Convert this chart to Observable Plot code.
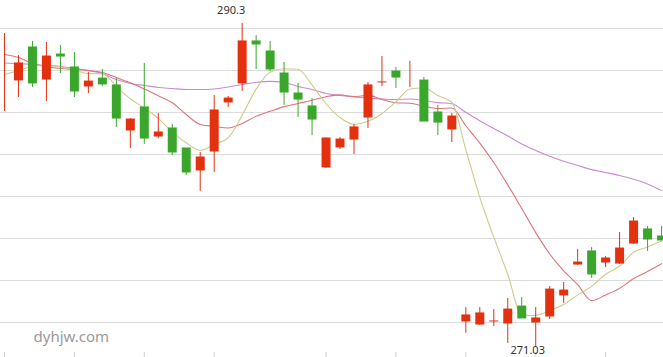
<!DOCTYPE html>
<html>
<head>
<meta charset="utf-8">
<script src="https://cdn.jsdelivr.net/npm/d3@7"></script>
<script src="https://cdn.jsdelivr.net/npm/@observablehq/plot@0.6"></script>
<style>
  html, body { margin: 0; padding: 0; background: #fff; }
  #chart svg { display: block; }
</style>
</head>
<body>
<div id="chart"></div>
<script>
// Daily candles (index order, left to right)
const opens  = [287.08,286.85,288.87,286.90,288.45,287.68,286.49,287.02,286.61,283.87,285.30,283.51,284.05,282.86,281.49,282.62,285.54,286.67,289.23,288.63,287.32,286.13,285.36,281.67,282.86,283.33,284.64,286.73,287.44,287.20,286.90,285.00,283.93,272.50,272.32,272.50,272.38,273.45,272.44,272.80,274.05,275.89,276.73,276.01,275.95,277.14,278.04,277.62];
const closes = [287.14,287.98,286.73,288.39,288.33,286.25,286.90,286.67,284.64,284.64,283.45,283.87,282.62,281.43,282.38,285.18,285.89,289.29,289.05,287.56,286.19,285.77,284.58,283.51,283.45,284.17,286.67,286.85,287.08,287.26,284.46,284.40,284.82,272.98,273.10,272.62,273.33,272.74,272.80,274.52,274.46,276.13,275.36,276.37,276.96,278.57,277.44,277.38];
const highs  = [289.70,288.39,289.23,289.17,288.99,288.57,287.38,287.56,287.02,284.64,287.92,284.94,284.29,282.86,282.62,286.01,285.95,290.30,289.58,289.23,287.98,286.73,285.83,283.51,283.51,284.29,286.79,288.33,287.68,288.04,287.08,285.42,284.94,273.39,273.39,273.27,273.93,273.99,273.39,274.64,274.88,276.85,276.96,276.43,277.86,278.75,278.21,278.21];
const lows   = [285.06,285.89,286.49,285.65,287.32,285.89,286.13,286.55,284.11,282.86,283.10,283.45,282.44,281.25,280.30,281.43,285.30,286.25,287.56,287.44,285.42,284.70,283.63,281.67,282.80,282.50,284.05,286.55,286.43,286.49,284.46,283.63,283.21,271.85,272.32,272.26,271.25,272.74,271.03,272.68,273.63,275.89,275.12,275.77,275.95,277.14,276.73,277.38];

// Moving averages as drawn
const ma5  = [287.26,287.50,287.74,287.80,287.71,287.54,287.32,287.31,286.56,285.82,285.26,284.65,283.85,283.20,282.75,283.10,283.50,284.83,286.39,287.39,287.60,287.57,286.63,285.52,284.70,284.30,284.48,284.93,285.64,286.40,286.46,286.01,285.61,282.79,279.95,277.58,275.37,272.95,272.92,273.20,273.57,274.13,274.65,275.37,275.86,276.68,277.00,277.35];
const ma10 = [288.45,288.27,287.92,287.74,287.62,287.56,287.50,287.38,287.08,286.77,286.40,285.99,285.58,284.88,284.29,284.18,284.08,284.34,284.78,285.07,285.35,285.54,285.73,285.94,286.05,285.95,286.02,285.78,285.58,285.55,285.38,285.24,285.27,284.21,283.18,282.02,280.69,279.28,277.85,276.58,275.58,274.75,273.80,274.14,274.53,275.12,275.54,276.00];
const ma30 = [287.95,287.92,287.86,287.80,287.74,287.62,287.50,287.32,286.96,286.73,286.61,286.49,286.43,286.37,286.37,286.40,286.52,286.67,286.79,286.85,286.79,286.55,286.37,286.13,286.01,285.92,285.86,285.80,285.77,285.80,285.71,285.59,285.52,285.01,284.51,284.05,283.60,283.13,282.74,282.40,282.10,281.85,281.60,281.43,281.25,281.03,280.75,280.35];

// Axis ticks
const gridValues = [290, 287.5, 285, 282.5, 280, 277.5, 275, 272.5];
const xTickIndices = [0, 5, 10, 15, 23, 28, 33, 38, 43];

const UP = "#e3300e", DOWN = "#3aa72c";
const candles = opens.map((o, i) => ({
  i, open: o, close: closes[i], high: highs[i], low: lows[i],
  color: closes[i] >= o ? UP : DOWN
}));
const series = (arr) => arr.map((v, i) => ({ i, v }));

const hiIdx = d3.maxIndex(highs);
const loIdx = d3.minIndex(lows);
const hiLabel = [{ i: hiIdx, v: highs[hiIdx] }];
const loLabel = [{ i: loIdx, v: lows[loIdx] }];

const chart = Plot.plot({
  width: 663,
  height: 357,
  marginTop: 0, marginRight: 0, marginLeft: 0, marginBottom: 5,
  style: { fontFamily: "'Noto Sans', sans-serif", background: "#fff" },
  x: { type: "linear", domain: [-0.286, 47.14], axis: null, label: null },
  y: { domain: [270.7143, 291.6667], axis: null },
  marks: [
    Plot.ruleY(gridValues, { y: d => d, stroke: "#dcdcdc", strokeWidth: 1 }),
    Plot.axisX(xTickIndices, { anchor: "bottom", tickSize: 5, tickFormat: () => "", label: null, stroke: "#cfcfcf" }),
    Plot.line(series(ma30), { x: "i", y: "v", stroke: "#c98ad2", strokeWidth: 1.1, curve: "monotone-x" }),
    Plot.line(series(ma10), { x: "i", y: "v", stroke: "#e0737c", strokeWidth: 1.1, curve: "monotone-x" }),
    Plot.line(series(ma5), { x: "i", y: "v", stroke: "#cfca88", strokeWidth: 1.1, curve: "monotone-x" }),
    Plot.ruleX(candles, { x: "i", y1: "low", y2: "high", stroke: "color", strokeWidth: 1 }),
    Plot.ruleX(candles, { x: "i", y1: "open", y2: "close", stroke: "color", strokeWidth: 9, insetTop: -0.5, insetBottom: -0.5 }),
    Plot.text(hiLabel, { x: "i", y: "v", text: d => String(d.v), dx: -11, dy: -13, fontSize: 11, fill: "#333" }),
    Plot.text(loLabel, { x: "i", y: "v", text: d => String(d.v), dx: -8, dy: 3, fontSize: 11, fill: "#333" }),
    Plot.text(["dyhjw.com"], { frameAnchor: "bottom-left", text: d => d, dx: 33, dy: -11, textAnchor: "start", fontSize: 15, fill: "#9a9a9a" })
  ]
});
document.getElementById("chart").appendChild(chart);
</script>
</body>
</html>
